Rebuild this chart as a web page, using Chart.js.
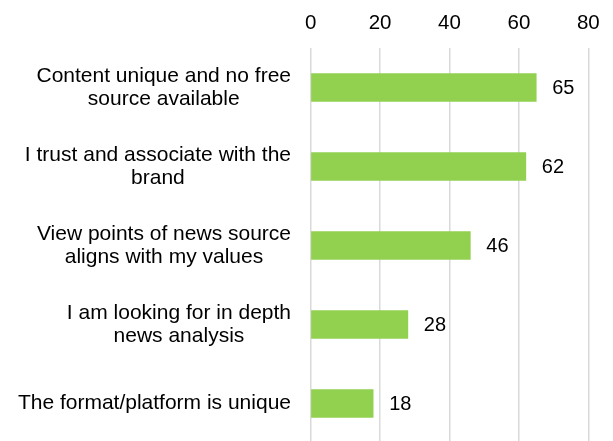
<!DOCTYPE html>
<html>
<head>
<meta charset="utf-8">
<style>
  html, body { margin: 0; padding: 0; background: #fff; overflow: hidden; }
  #wrap { width: 613px; height: 443px; }
</style>
<script src="https://cdn.jsdelivr.net/npm/chart.js@4/dist/chart.umd.min.js"></script>
</head>
<body>
<div id="wrap"><canvas id="c" width="613" height="443"></canvas></div>
<script>
// Reasons for paying for news
const reasons = [
  ["Content unique and no free", "source available"],
  ["I trust and associate with the", "brand"],
  ["View points of news source", "aligns with my values"],
  ["I am looking for in depth", "news analysis"],
  ["The format/platform is unique"]
];
const shares = [65, 62, 46, 28, 18];
const axisTicks = [0, 20, 40, 60, 80];

const FONT = '"Liberation Sans", Arial, sans-serif';

// Category labels: right-aligned block, lines centred within it
const categoryLabels = {
  id: 'categoryLabels',
  afterDraw(chart) {
    const { ctx, scales: { y } } = chart;
    ctx.save();
    ctx.font = '21px ' + FONT;
    ctx.fillStyle = '#000';
    ctx.textAlign = 'center';
    ctx.textBaseline = 'middle';
    const right = 291;
    const lineH = 23.5;
    reasons.forEach((lines, i) => {
      const cy = y.getPixelForValue(i);
      const w = Math.max(...lines.map(l => ctx.measureText(l).width));
      const cx = right - w / 2;
      const top = cy - (lines.length - 1) * lineH / 2;
      lines.forEach((l, k) => ctx.fillText(l, cx, top + k * lineH));
    });
    ctx.restore();
  }
};

// Value labels just past the end of each bar
const valueLabels = {
  id: 'valueLabels',
  afterDatasetsDraw(chart) {
    const { ctx } = chart;
    const meta = chart.getDatasetMeta(0);
    ctx.save();
    ctx.font = '20px ' + FONT;
    ctx.fillStyle = '#000';
    ctx.textAlign = 'left';
    ctx.textBaseline = 'middle';
    meta.data.forEach((bar, i) => {
      ctx.fillText(String(shares[i]), bar.x + 16, bar.y + 1);
    });
    ctx.restore();
  }
};

new Chart(document.getElementById('c'), {
  type: 'bar',
  data: {
    labels: reasons,
    datasets: [{
      data: shares,
      backgroundColor: '#92D050',
      borderWidth: 0,
      barThickness: 28
    }]
  },
  options: {
    indexAxis: 'y',
    responsive: false,
    animation: false,
    devicePixelRatio: 1,
    layout: { padding: { left: 0, right: 24.7, top: 0, bottom: 0 } },
    plugins: { legend: { display: false }, tooltip: { enabled: false } },
    scales: {
      x: {
        position: 'top',
        min: axisTicks[0],
        max: axisTicks[axisTicks.length - 1],
        afterBuildTicks(scale) { scale.ticks = axisTicks.map(v => ({ value: v })); },
        afterFit(scale) { scale.height = 48; },
        ticks: {
          font: { family: FONT, size: 20.5 },
          color: '#000',
          padding: 12
        },
        grid: { color: '#d9d9d9', lineWidth: 1.5, drawTicks: false },
        border: { display: false }
      },
      y: {
        afterFit(scale) { scale.width = 310.7; },
        ticks: { display: false },
        grid: { display: false },
        border: { display: false }
      }
    }
  },
  plugins: [categoryLabels, valueLabels]
});
</script>
</body>
</html>
